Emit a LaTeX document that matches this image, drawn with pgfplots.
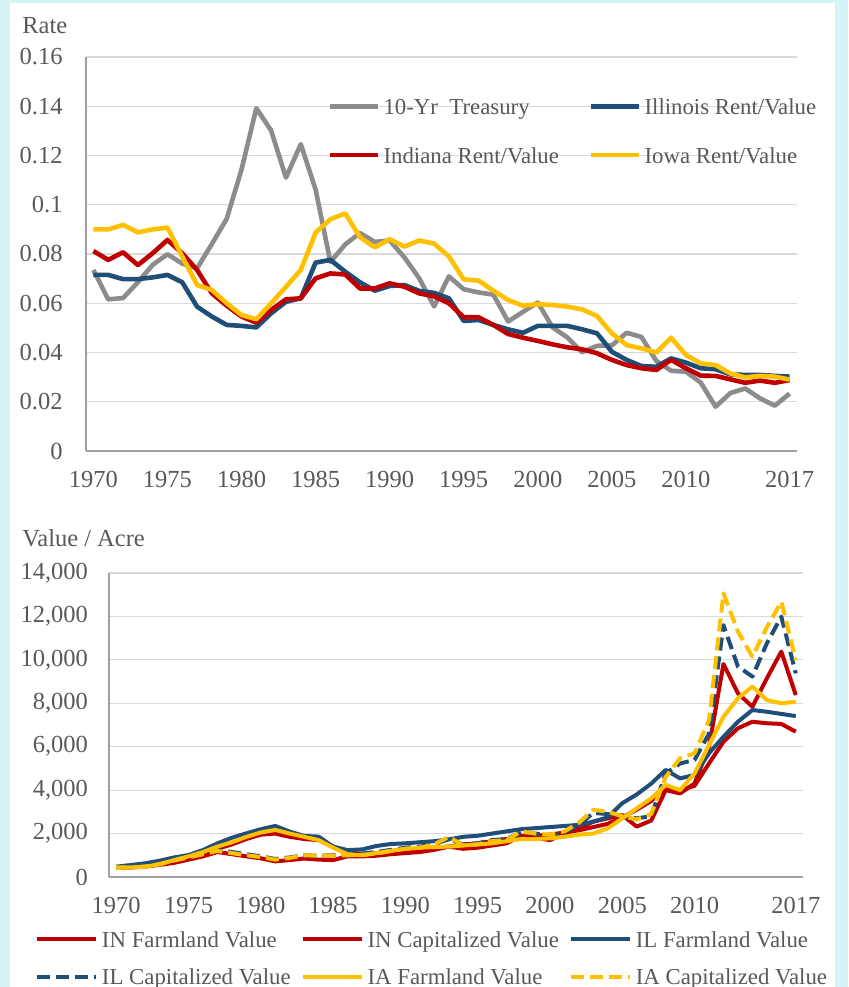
\documentclass[border=0pt]{standalone}
\usepackage{pgfplots}
\pgfplotsset{compat=1.18}
\usepackage{pgfplotstable}
\usepackage{fontspec}
\setmainfont{Liberation Serif}
\definecolor{bgcyan}{RGB}{214,243,248}
\definecolor{txtgray}{RGB}{89,89,89}
\definecolor{gridgray}{RGB}{217,217,217}
\definecolor{axgray}{RGB}{160,160,160}
\definecolor{tsygray}{RGB}{140,140,140}
\definecolor{ilblue}{RGB}{31,78,121}
\definecolor{inred}{RGB}{192,0,0}
\definecolor{iayellow}{RGB}{255,192,0}

\pgfplotstableread{
year tsy il in ia
1970 0.0735 0.0715 0.0812 0.0900
1971 0.0616 0.0715 0.0776 0.0900
1972 0.0621 0.0698 0.0807 0.0918
1973 0.0685 0.0698 0.0755 0.0888
1974 0.0756 0.0705 0.0803 0.0900
1975 0.0799 0.0715 0.0857 0.0907
1976 0.0761 0.0685 0.0803 0.0790
1977 0.0742 0.0586 0.0735 0.0674
1978 0.0841 0.0546 0.0640 0.0654
1979 0.0943 0.0512 0.0590 0.0600
1980 0.1143 0.0508 0.0546 0.0552
1981 0.1392 0.0502 0.0521 0.0535
1982 0.1301 0.0559 0.0573 0.0600
1983 0.1110 0.0606 0.0616 0.0667
1984 0.1246 0.0620 0.0620 0.0735
1985 0.1062 0.0765 0.0701 0.0887
1986 0.0767 0.0776 0.0721 0.0941
1987 0.0839 0.0728 0.0717 0.0965
1988 0.0885 0.0685 0.0660 0.0868
1989 0.0849 0.0651 0.0660 0.0827
1990 0.0855 0.0670 0.0681 0.0860
1991 0.0786 0.0674 0.0667 0.0830
1992 0.0701 0.0650 0.0640 0.0855
1993 0.0587 0.0642 0.0628 0.0842
1994 0.0709 0.0620 0.0600 0.0790
1995 0.0657 0.0528 0.0543 0.0697
1996 0.0644 0.0532 0.0543 0.0692
1997 0.0635 0.0512 0.0512 0.0651
1998 0.0526 0.0494 0.0475 0.0613
1999 0.0565 0.0480 0.0460 0.0590
2000 0.0603 0.0508 0.0447 0.0596
2001 0.0502 0.0508 0.0433 0.0593
2002 0.0461 0.0508 0.0421 0.0586
2003 0.0401 0.0494 0.0413 0.0575
2004 0.0427 0.0478 0.0397 0.0548
2005 0.0429 0.0403 0.0370 0.0478
2006 0.0480 0.0370 0.0349 0.0430
2007 0.0463 0.0345 0.0336 0.0417
2008 0.0366 0.0342 0.0329 0.0400
2009 0.0326 0.0376 0.0370 0.0460
2010 0.0322 0.0359 0.0336 0.0390
2011 0.0278 0.0336 0.0306 0.0356
2012 0.0180 0.0332 0.0305 0.0349
2013 0.0235 0.0311 0.0291 0.0315
2014 0.0254 0.0309 0.0277 0.0299
2015 0.0214 0.0309 0.0286 0.0305
2016 0.0184 0.0305 0.0277 0.0302
2017 0.0233 0.0302 0.0288 0.0290
}\ratetable

\pgfplotstableread{
year inf inc ilf ilc iaf iac
1970 430 420 475 470 420 450
1971 450 440 550 460 440 430
1972 500 480 630 520 480 480
1973 600 560 750 640 580 600
1974 750 650 900 780 780 760
1975 880 800 1010 920 950 900
1976 1050 950 1240 1080 1150 1050
1977 1300 1150 1550 1250 1400 1200
1978 1500 1050 1810 1150 1600 1100
1979 1750 950 2010 1050 1850 1000
1980 1950 860 2200 950 2050 920
1981 2000 720 2350 830 2170 800
1982 1850 780 2090 900 2000 880
1983 1750 850 1890 1000 1850 1000
1984 1700 800 1860 980 1700 980
1985 1400 780 1400 1000 1350 980
1986 1150 950 1240 1050 1050 1000
1987 1050 950 1270 1080 1000 1020
1988 1100 980 1430 1150 1100 1080
1989 1200 1050 1520 1250 1200 1200
1990 1250 1100 1550 1350 1300 1300
1991 1300 1150 1600 1400 1350 1350
1992 1350 1250 1650 1500 1380 1500
1993 1400 1400 1730 1750 1400 1850
1994 1500 1300 1850 1500 1450 1450
1995 1550 1350 1900 1550 1500 1500
1996 1650 1450 2000 1700 1550 1650
1997 1750 1550 2100 1750 1650 1700
1998 1850 1900 2200 2050 1750 2100
1999 1900 1800 2250 2000 1750 2000
2000 1950 1700 2300 1900 1780 1950
2001 2050 2000 2350 2050 1850 2100
2002 2150 2250 2400 2400 1950 2500
2003 2300 2550 2550 2950 2000 3100
2004 2450 2700 2750 2900 2240 3000
2005 2750 2850 3400 2800 2700 2800
2006 3100 2320 3800 2700 3160 2650
2007 3500 2600 4300 2800 3620 2900
2008 4100 4000 4930 4770 4240 4600
2009 4000 3850 4540 5230 4000 5470
2010 4200 4310 4700 5390 4770 5700
2011 5230 6000 5700 6600 6080 7230
2012 6230 9810 6460 11600 7380 13060
2013 6850 8460 7150 9690 8230 11300
2014 7150 7840 7690 9230 8770 10150
2015 7080 9150 7610 10760 8150 11500
2016 7050 10380 7510 11990 8000 12680
2017 6690 8380 7410 9380 8070 9990
}\valtable

\pgfplotsset{
  commonaxis/.style={
    scale only axis, anchor=south west,
    xmin=1969.5, xmax=2017.5, ymin=0,
    axis lines*=left,
    axis line style={draw=axgray, line width=0.75pt},
    ymajorgrids, grid style={draw=gridgray, line width=0.6pt},
    major tick length=0pt, tick style={draw=none},
    scaled x ticks=false, scaled y ticks=false,
    xtick={1970,1975,1980,1985,1990,1995,2000,2005,2010,2017},
    xticklabels={1970,1975,1980,1985,1990,1995,2000,2005,2010,2017},
    /pgf/number format/assume math mode=true,
    ticklabel style={font=\fontsize{12.25}{14}\selectfont, text=txtgray, inner sep=0pt},
    xticklabel style={anchor=north, yshift=-10pt},
    legend cell align=left,
  }
}

\begin{document}
\begin{tikzpicture}
\useasboundingbox (0,0) rectangle (424pt,493.5pt);
\fill[bgcyan] (0,0) rectangle (424pt,493.5pt);
\fill[white] (5pt,0) rectangle (417.5pt,492pt);
\node[anchor=base west,inner sep=0pt,text=txtgray,font=\fontsize{12.25}{14}\selectfont] at (11pt,476.5pt) {Rate};
\node[anchor=base west,inner sep=0pt,text=txtgray,font=\fontsize{12.25}{14}\selectfont] at (11pt,220pt) {Value / Acre};

\begin{axis}[commonaxis,
  at={(43pt,268pt)}, width=355.5pt, height=197pt,
  ymax=0.16,
  ytick={0,0.02,0.04,0.06,0.08,0.1,0.12,0.14,0.16},
  yticklabels={0,0.02,0.04,0.06,0.08,0.1,0.12,0.14,0.16},
  yticklabel style={anchor=east, xshift=-11.5pt},
  legend columns=2,
  legend image code/.code={\draw[#1] (0pt,0pt) -- (24pt,0pt);},
  legend style={at={(0.34037,0.89467)}, anchor=north west, draw=none, fill=none,
    inner sep=0pt, outer sep=0pt, row sep=15.95pt,
    font=\fontsize{11.4}{13}\selectfont, text=txtgray,
    nodes={inner sep=0pt, text height=8.2pt, text depth=0pt},
    /tikz/every odd column/.append style={column sep=1.5pt},
    /tikz/every even column/.append style={column sep=15pt}},
  every axis plot/.append style={line width=2.3pt, line join=round},
]
\addplot[tsygray] table[x=year,y=tsy]{\ratetable};
\addlegendentry{10-Yr\ \ Treasury}
\addplot[ilblue] table[x=year,y=il]{\ratetable};
\addlegendentry{Illinois Rent/Value}
\addplot[inred] table[x=year,y=in]{\ratetable};
\addlegendentry{Indiana Rent/Value}
\addplot[iayellow] table[x=year,y=ia]{\ratetable};
\addlegendentry{Iowa Rent/Value}
\end{axis}

\begin{axis}[commonaxis,
  at={(54.5pt,55pt)}, width=347pt, height=152pt,
  ymax=14000,
  ytick={0,2000,4000,6000,8000,10000,12000,14000},
  yticklabels={0,{2,000},{4,000},{6,000},{8,000},{10,000},{12,000},{14,000}},
  yticklabel style={anchor=east, xshift=-10.3pt},
  legend columns=3,
  legend image code/.code={\draw[#1] (0pt,0pt) -- (29.5pt,0pt);},
  legend style={at={(-0.10663,-0.17796)}, anchor=north west, draw=none, fill=none,
    inner sep=0pt, outer sep=0pt, row sep=10.5pt,
    font=\fontsize{11.4}{13}\selectfont, text=txtgray,
    nodes={inner sep=0pt, text height=8.2pt, text depth=0pt},
    /tikz/every odd column/.append style={column sep=2pt},
    /tikz/every even column/.append style={column sep=5pt}},
  every axis plot/.append style={line width=2pt, line join=round},
]
\addplot[inred] table[x=year,y=inf]{\valtable};
\addlegendentry{IN Farmland Value}
\addplot[inred] table[x=year,y=inc]{\valtable};
\addlegendentry{IN Capitalized Value}
\addplot[ilblue] table[x=year,y=ilf]{\valtable};
\addlegendentry{IL Farmland Value}
\addplot[ilblue, dash pattern=on 6.5pt off 3pt] table[x=year,y=ilc]{\valtable};
\addlegendentry{IL Capitalized Value}
\addplot[iayellow] table[x=year,y=iaf]{\valtable};
\addlegendentry{IA Farmland Value}
\addplot[iayellow, dash pattern=on 6.5pt off 3pt] table[x=year,y=iac]{\valtable};
\addlegendentry{IA Capitalized Value}
\end{axis}
\end{tikzpicture}
\end{document}
